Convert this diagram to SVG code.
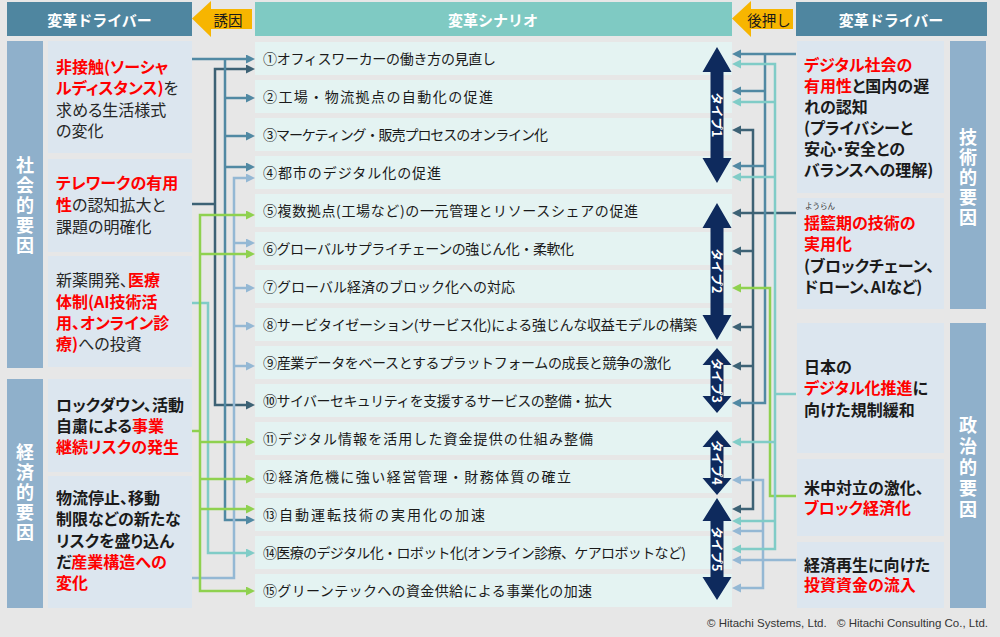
<svg xmlns="http://www.w3.org/2000/svg" width="1000" height="637" viewBox="0 0 1000 637">
<style>
text{font-family:"Noto Sans CJK JP","Noto Sans",sans-serif;}
.hd{fill:#fff;font-size:15px;font-weight:bold;text-anchor:middle;dominant-baseline:central;}
.yl{fill:#1a1a1a;font-size:14.5px;dominant-baseline:central;text-anchor:middle;}
.vt{fill:#fff;font-size:18px;font-weight:bold;writing-mode:vertical-rl;letter-spacing:2px;}
.bx{font-size:16px;font-feature-settings:"palt";}
.r{fill:#ff0000;font-weight:bold;}
.b{fill:#1a1a1a;font-weight:bold;}
.n{fill:#262626;font-weight:normal;}
.row{fill:#e4f3f2;}
.rt{font-size:14px;fill:#1a1a1a;}
.ty{fill:#0e2a5d;}
.tt{fill:#fff;font-size:12.5px;font-weight:bold;text-anchor:middle;dominant-baseline:central;}
.c{fill:none;stroke-width:2.5;}
.cd{stroke:#3d6275;}
.cm{stroke:#5189a3;}
.cl{stroke:#94b8d4;}
.ct{stroke:#80ccc7;}
.cg{stroke:#8fd14f;}
</style>
<defs>
<marker id="ad" markerUnits="userSpaceOnUse" markerWidth="10" markerHeight="10" refX="1" refY="4.5" orient="auto-start-reverse"><path d="M0,0 L9,4.5 L0,9 z" fill="#3d6275"/></marker>
<marker id="am" markerUnits="userSpaceOnUse" markerWidth="10" markerHeight="10" refX="1" refY="4.5" orient="auto-start-reverse"><path d="M0,0 L9,4.5 L0,9 z" fill="#5189a3"/></marker>
<marker id="al" markerUnits="userSpaceOnUse" markerWidth="10" markerHeight="10" refX="1" refY="4.5" orient="auto-start-reverse"><path d="M0,0 L9,4.5 L0,9 z" fill="#94b8d4"/></marker>
<marker id="at" markerUnits="userSpaceOnUse" markerWidth="10" markerHeight="10" refX="1" refY="4.5" orient="auto-start-reverse"><path d="M0,0 L9,4.5 L0,9 z" fill="#80ccc7"/></marker>
<marker id="ag" markerUnits="userSpaceOnUse" markerWidth="10" markerHeight="10" refX="1" refY="4.5" orient="auto-start-reverse"><path d="M0,0 L9,4.5 L0,9 z" fill="#8fd14f"/></marker>
</defs>
<rect x="0" y="0" width="1000" height="637" fill="#e7e7e7"/>

<!-- headers -->
<g id="header-left"><rect x="7" y="2" width="185" height="34" fill="#4f86a0"/><text class="hd" x="99.5" y="19">変革ドライバー</text></g>
<g id="header-center"><rect x="255" y="2" width="477" height="34" fill="#7fcac3"/><text class="hd" x="493" y="19">変革シナリオ</text></g>
<g id="header-right"><rect x="796" y="2" width="191" height="34" fill="#4f86a0"/><text class="hd" x="891" y="19">変革ドライバー</text></g>
<g id="arrow-induce"><polygon points="192,18.5 211,1 211,9 252,9 252,29 211,29 211,37" fill="#f7b500"/><text class="yl" x="228" y="19">誘因</text></g>
<g id="arrow-push"><polygon points="732,18.5 751,1 751,9 793,9 793,29 751,29 751,37" fill="#f7b500"/><text class="yl" x="769" y="19">後押し</text></g>

<!-- left category bars -->
<g id="cat-social"><rect x="7" y="41" width="36" height="327" fill="#8fb0cb"/>
<text class="vt" x="25" y="156">社会的要因</text></g>
<g id="cat-economic"><rect x="7" y="379" width="36" height="229" fill="#8fb0cb"/>
<text class="vt" x="25" y="443">経済的要因</text></g>

<!-- left drivers -->
<g id="driver-l1"><rect x="48" y="41" width="144" height="112" fill="#dce6ef"/>
<text class="bx" x="56" y="73"><tspan class="r">非接触(ソーシャ</tspan><tspan x="56" y="94" class="r">ルディスタンス)</tspan><tspan class="n">を</tspan><tspan x="56" y="116" class="n">求める生活様式</tspan><tspan x="56" y="137" class="n">の変化</tspan></text></g>
<g id="driver-l2"><rect x="48" y="159" width="144" height="93" fill="#dce6ef"/>
<text class="bx" x="56" y="189"><tspan class="r">テレワークの有用</tspan><tspan x="56" y="211" class="r">性</tspan><tspan class="n">の認知拡大と</tspan><tspan x="56" y="233" class="n">課題の明確化</tspan></text></g>
<g id="driver-l3"><rect x="48" y="256" width="144" height="111" fill="#dce6ef"/>
<text class="bx" x="56" y="286"><tspan class="n">新薬開発、</tspan><tspan class="r">医療</tspan><tspan x="56" y="308" class="r">体制(AI技術活</tspan><tspan x="56" y="329" class="r">用、オンライン診</tspan><tspan x="56" y="350" class="r">療)</tspan><tspan class="n">への投資</tspan></text></g>
<g id="driver-l4"><rect x="48" y="379" width="144" height="93" fill="#dce6ef"/>
<text class="bx" x="56" y="411"><tspan class="b">ロックダウン、活動</tspan><tspan x="56" y="432" class="b">自粛による</tspan><tspan class="r">事業</tspan><tspan x="56" y="453" class="r">継続リスクの発生</tspan></text></g>
<g id="driver-l5"><rect x="48" y="476" width="144" height="132" fill="#dce6ef"/>
<text class="bx" x="56" y="504"><tspan class="b">物流停止、移動</tspan><tspan x="56" y="525" class="b">制限などの新たな</tspan><tspan x="56" y="547" class="b">リスクを盛り込ん</tspan><tspan x="56" y="568" class="b">だ</tspan><tspan class="r">産業構造への</tspan><tspan x="56" y="589" class="r">変化</tspan></text></g>

<!-- right category bars -->
<g id="cat-tech"><rect x="950" y="41" width="36" height="268" fill="#8fb0cb"/>
<text class="vt" x="968" y="128">技術的要因</text></g>
<g id="cat-politics"><rect x="950" y="323" width="36" height="285" fill="#8fb0cb"/>
<text class="vt" x="968" y="416" style="letter-spacing:3px">政治的要因</text></g>

<!-- right drivers -->
<g id="driver-r1"><rect x="797" y="41" width="147" height="152" fill="#dce6ef"/>
<text class="bx" x="804" y="71"><tspan class="r">デジタル社会の</tspan><tspan x="804" y="92" class="r">有用性</tspan><tspan class="b">と国内の遅</tspan><tspan x="804" y="113" class="b">れの認知</tspan><tspan x="804" y="134" class="b">(プライバシーと</tspan><tspan x="804" y="155" class="b">安心・安全との</tspan><tspan x="804" y="176" class="b">バランスへの理解)</tspan></text></g>
<g id="driver-r2"><rect x="797" y="198" width="147" height="111" fill="#dce6ef"/>
<text x="820" y="208.5" font-size="7.5" fill="#333" text-anchor="middle">ようらん</text>
<text class="bx" x="804" y="229"><tspan class="r">揺籃期の技術の</tspan><tspan x="804" y="250" class="r">実用化</tspan><tspan x="804" y="272" class="b">(ブロックチェーン、</tspan><tspan x="804" y="293" class="b">ドローン、AIなど)</tspan></text></g>
<g id="driver-r3"><rect x="797" y="323" width="147" height="130" fill="#dce6ef"/>
<text class="bx" x="804" y="373"><tspan class="b">日本の</tspan><tspan x="804" y="394" class="r">デジタル化推進</tspan><tspan class="b">に</tspan><tspan x="804" y="416" class="b">向けた規制緩和</tspan></text></g>
<g id="driver-r4"><rect x="797" y="459" width="147" height="77" fill="#dce6ef"/>
<text class="bx" x="804" y="494"><tspan class="b">米中対立の激化、</tspan><tspan x="804" y="514" class="r">ブロック経済化</tspan></text></g>
<g id="driver-r5"><rect x="797" y="542" width="147" height="66" fill="#dce6ef"/>
<text class="bx" x="804" y="571"><tspan class="b">経済再生に向けた</tspan><tspan x="804" y="591" class="r">投資資金の流入</tspan></text></g>

<!-- scenario rows -->
<g id="s1"><rect class="row" x="255" y="42" width="477" height="33"/><text class="rt" x="263" y="64" textLength="233" lengthAdjust="spacing">①オフィスワーカーの働き方の見直し</text></g>
<g id="s2"><rect class="row" x="255" y="80" width="477" height="33"/><text class="rt" x="263" y="102" textLength="230" lengthAdjust="spacing">②工場・物流拠点の自動化の促進</text></g>
<g id="s3"><rect class="row" x="255" y="118" width="477" height="33"/><text class="rt" x="263" y="140" textLength="285" lengthAdjust="spacing">③マーケティング・販売プロセスのオンライン化</text></g>
<g id="s4"><rect class="row" x="255" y="156" width="477" height="33"/><text class="rt" x="263" y="178" textLength="178" lengthAdjust="spacing">④都市のデジタル化の促進</text></g>
<g id="s5"><rect class="row" x="255" y="194" width="477" height="33"/><text class="rt" x="263" y="216" textLength="375" lengthAdjust="spacing">⑤複数拠点(工場など)の一元管理とリソースシェアの促進</text></g>
<g id="s6"><rect class="row" x="255" y="232" width="477" height="33"/><text class="rt" x="263" y="254" textLength="311" lengthAdjust="spacing">⑥グローバルサプライチェーンの強じん化・柔軟化</text></g>
<g id="s7"><rect class="row" x="255" y="270" width="477" height="33"/><text class="rt" x="263" y="292" textLength="252" lengthAdjust="spacing">⑦グローバル経済のブロック化への対応</text></g>
<g id="s8"><rect class="row" x="255" y="308" width="477" height="33"/><text class="rt" x="263" y="330" textLength="434" lengthAdjust="spacing">⑧サービタイゼーション(サービス化)による強じんな収益モデルの構築</text></g>
<g id="s9"><rect class="row" x="255" y="346" width="477" height="33"/><text class="rt" x="263" y="368" textLength="408" lengthAdjust="spacing">⑨産業データをベースとするプラットフォームの成長と競争の激化</text></g>
<g id="s10"><rect class="row" x="255" y="384" width="477" height="33"/><text class="rt" x="263" y="406" textLength="349" lengthAdjust="spacing">⑩サイバーセキュリティを支援するサービスの整備・拡大</text></g>
<g id="s11"><rect class="row" x="255" y="422" width="477" height="33"/><text class="rt" x="263" y="444" textLength="330" lengthAdjust="spacing">⑪デジタル情報を活用した資金提供の仕組み整備</text></g>
<g id="s12"><rect class="row" x="255" y="460" width="477" height="33"/><text class="rt" x="263" y="482" textLength="308" lengthAdjust="spacing">⑫経済危機に強い経営管理・財務体質の確立</text></g>
<g id="s13"><rect class="row" x="255" y="498" width="477" height="33"/><text class="rt" x="263" y="520" textLength="222" lengthAdjust="spacing">⑬自動運転技術の実用化の加速</text></g>
<g id="s14"><rect class="row" x="255" y="536" width="477" height="33"/><text class="rt" x="263" y="558" textLength="423" lengthAdjust="spacing">⑭医療のデジタル化・ロボット化(オンライン診療、ケアロボットなど)</text></g>
<g id="s15"><rect class="row" x="255" y="574" width="477" height="33"/><text class="rt" x="263" y="596" textLength="329" lengthAdjust="spacing">⑮グリーンテックへの資金供給による事業化の加速</text></g>

<!-- type arrows -->
<g id="type1"><polygon class="ty" points="717,47 731.5,72 723.5,72 723.5,158 731.5,158 717,183 702.5,158 710.5,158 710.5,72 702.5,72"/><text class="tt" transform="translate(717,115) rotate(90)">タイプ1</text></g>
<g id="type2"><polygon class="ty" points="717,203 731.5,228 723.5,228 723.5,315 731.5,315 717,340 702.5,315 710.5,315 710.5,228 702.5,228"/><text class="tt" transform="translate(717,271) rotate(90)">タイプ2</text></g>
<g id="type3"><polygon class="ty" points="717,348 731.5,365 723.5,365 723.5,396 731.5,396 717,413 702.5,396 710.5,396 710.5,365 702.5,365"/><text class="tt" transform="translate(717,380.5) rotate(90)">タイプ3</text></g>
<g id="type4"><polygon class="ty" points="717,430 731.5,447 723.5,447 723.5,478 731.5,478 717,495 702.5,478 710.5,478 710.5,447 702.5,447"/><text class="tt" transform="translate(717,462.5) rotate(90)">タイプ4</text></g>
<g id="type5"><polygon class="ty" points="717,498 731.5,521 723.5,521 723.5,577 731.5,577 717,600 702.5,577 710.5,577 710.5,521 702.5,521"/><text class="tt" transform="translate(717,549) rotate(90)">タイプ5</text></g>

<!-- connectors -->
<g id="connectors">
<path class="c cd" d="M192,204 H215"/>
<path class="c cd" d="M247,69 H215 V405 H247" marker-start="url(#ad)" marker-end="url(#ad)"/>
<path class="c cm" d="M192,59 H247" marker-end="url(#am)"/>
<path class="c cm" d="M225,59 V520 H247" marker-end="url(#am)"/>
<path class="c cm" d="M225,98 H247" marker-end="url(#am)"/>
<path class="c cm" d="M225,136 H247" marker-end="url(#am)"/>
<path class="c cm" d="M225,167 H247" marker-end="url(#am)"/>
<path class="c cl" d="M192,578 H234 V178 H247" marker-end="url(#al)"/>
<path class="c cl" d="M234,243 H247" marker-end="url(#al)"/>
<path class="c cl" d="M234,288 H247" marker-end="url(#al)"/>
<path class="c cl" d="M234,326 H247" marker-end="url(#al)"/>
<path class="c cl" d="M234,366 H247" marker-end="url(#al)"/>
<path class="c ct" d="M192,303 H208 V553 H247" marker-end="url(#at)"/>
<path class="c cg" d="M192,431 H200"/>
<path class="c cg" d="M247,215 H200 V591 H247" marker-start="url(#ag)" marker-end="url(#ag)"/>
<path class="c cg" d="M200,254 H247" marker-end="url(#ag)"/>
<path class="c cg" d="M200,442 H247" marker-end="url(#ag)"/>
<path class="c cg" d="M200,479 H247" marker-end="url(#ag)"/>
<path class="c cg" d="M200,509 H247" marker-end="url(#ag)"/>
<path class="c cd" d="M796,213 H740" marker-end="url(#ad)"/>
<path class="c cd" d="M740,130 H753 V509 H740" marker-start="url(#ad)" marker-end="url(#ad)"/>
<path class="c cd" d="M753,251 H740" marker-end="url(#ad)"/>
<path class="c cd" d="M753,327 H740" marker-end="url(#ad)"/>
<path class="c cd" d="M753,366 H740" marker-end="url(#ad)"/>
<path class="c cm" d="M796,54 H740" marker-end="url(#am)"/>
<path class="c cm" d="M765,54 V403 H740" marker-end="url(#am)"/>
<path class="c cm" d="M765,91 H740" marker-end="url(#am)"/>
<path class="c cm" d="M765,166 H740" marker-end="url(#am)"/>
<path class="c cl" d="M796,560 H740" marker-end="url(#al)"/>
<path class="c cl" d="M740,480 H763 V588 H740" marker-start="url(#al)" marker-end="url(#al)"/>
<path class="c cl" d="M763,531 H740" marker-end="url(#al)"/>
<path class="c cg" d="M796,496 H770 V288 H740" marker-end="url(#ag)"/>
<path class="c ct" d="M796,394 H775"/>
<path class="c ct" d="M740,64 H775 V549 H740" marker-start="url(#at)" marker-end="url(#at)"/>
<path class="c ct" d="M775,102 H740" marker-end="url(#at)"/>
<path class="c ct" d="M775,177 H740" marker-end="url(#at)"/>
<path class="c ct" d="M775,442 H740" marker-end="url(#at)"/>
<path class="c ct" d="M775,521 H740" marker-end="url(#at)"/>
</g>

<text x="707" y="627" font-size="11.5" fill="#333" style="font-family:'Liberation Sans',Arial,sans-serif">© Hitachi Systems, Ltd.<tspan x="837">© Hitachi Consulting Co., Ltd.</tspan></text>
</svg>
